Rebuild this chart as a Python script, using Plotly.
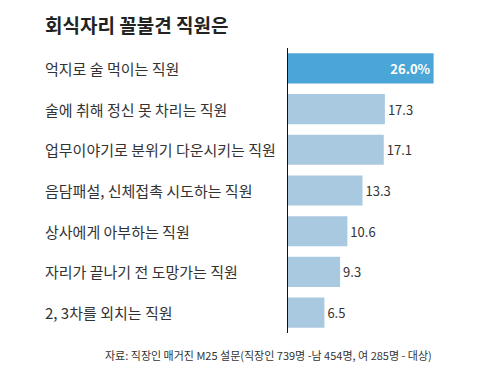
import plotly.graph_objects as go

title = "회식자리 꼴불견 직원은"
categories = [
    "억지로 술 먹이는 직원",
    "술에 취해 정신 못 차리는 직원",
    "업무이야기로 분위기 다운시키는 직원",
    "음담패설, 신체접촉 시도하는 직원",
    "상사에게 아부하는 직원",
    "자리가 끝나기 전 도망가는 직원",
    "2, 3차를 외치는 직원",
]
values = [26.0, 17.3, 17.1, 13.3, 10.6, 9.3, 6.5]
source = "자료: 직장인 매거진 M25 설문(직장인 739명 -남 454명, 여 285명 - 대상)"

FONT = "Noto Sans CJK KR"
W, H = 480, 374
ML, MR, MT, MB = 288, 24, 48, 41
plot_w = W - ML - MR
plot_h = H - MT - MB

texts = [f"<b>{v:.1f}%</b>" if i == 0 else f"{v:.1f}" for i, v in enumerate(values)]
colors = ["#4aa6d6" if i == 0 else "#a8c9e0" for i in range(len(values))]
positions = ["inside" if i == 0 else "outside" for i in range(len(values))]
tcolors = ["#ffffff" if i == 0 else "#333333" for i in range(len(values))]

fig = go.Figure(go.Bar(
    x=values, y=categories, orientation="h",
    marker=dict(color=colors, line=dict(width=0)),
    text=texts, textposition=positions,
    insidetextanchor="end",
    textfont=dict(family=FONT, size=13, color=tcolors),
    cliponaxis=False,
    hoverinfo="skip",
))

annotations = []
lx = (43 - ML) / plot_w
for c in categories:
    annotations.append(dict(
        text=c, x=lx, xref="paper", y=c, yref="y",
        xanchor="left", yanchor="middle", showarrow=False,
        font=dict(family=FONT, size=15, color="#333333"),
    ))
annotations.append(dict(
    text=f"<b>{title}</b>", x=lx, xref="paper",
    y=(H - MB - 25) / plot_h, yref="paper",
    xanchor="left", yanchor="middle", showarrow=False,
    font=dict(family=FONT, size=19, color="#222222"),
))
annotations.append(dict(
    text=source, x=(434 - ML) / plot_w, xref="paper",
    y=(H - MB - 355) / plot_h, yref="paper",
    xanchor="right", yanchor="middle", showarrow=False,
    font=dict(family=FONT, size=11, color="#333333"),
))

fig.update_layout(
    width=W, height=H,
    margin=dict(l=ML, r=MR, t=MT, b=MB, pad=0),
    paper_bgcolor="white", plot_bgcolor="white",
    bargap=0.26,
    showlegend=False,
    xaxis=dict(range=[0, 30], showgrid=False, zeroline=False,
               showticklabels=False, showline=False, fixedrange=True),
    yaxis=dict(categoryorder="array", categoryarray=categories,
               autorange="reversed", showticklabels=False, showgrid=False,
               zeroline=False, showline=True, linecolor="#111111",
               linewidth=1, ticks="", fixedrange=True),
    annotations=annotations,
)

fig.write_html("out.html", config={"displayModeBar": False, "staticPlot": True},
               post_script="document.body.style.margin='0';document.body.style.overflow='hidden';")
